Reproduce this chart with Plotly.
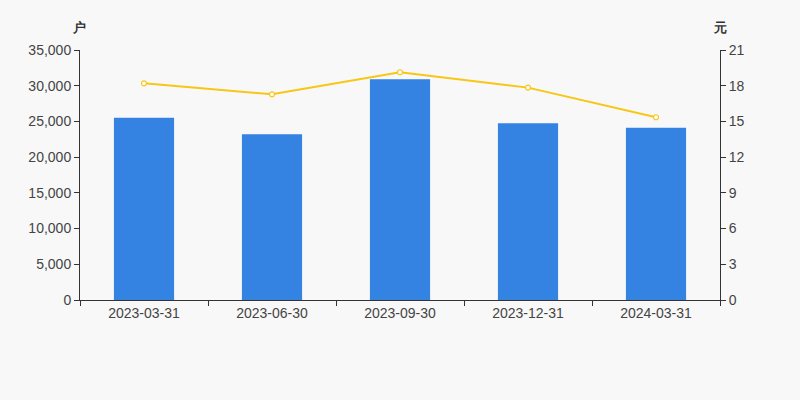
import plotly.graph_objects as go

dates = ["2023-03-31", "2023-06-30", "2023-09-30", "2023-12-31", "2024-03-31"]
holders = [25500, 23200, 30900, 24750, 24100]
avg_price = [18.2, 17.28, 19.13, 17.84, 15.35]

fig = go.Figure()

fig.add_trace(go.Bar(
    x=dates, y=holders, name="股东户数",
    marker=dict(color="#3482e2", line=dict(width=0)),
    width=0.47,
))

fig.add_trace(go.Scatter(
    x=dates, y=avg_price, name="股价", yaxis="y2",
    mode="lines+markers",
    line=dict(color="#f8c615", width=2),
    marker=dict(size=5, color="#ffffff", line=dict(color="#f8c615", width=1.2)),
))

axis_font = dict(family="Liberation Sans, Arial, sans-serif", size=14, color="#444")

fig.update_layout(
    width=800, height=400,
    margin=dict(l=80, r=80, t=50, b=100),
    paper_bgcolor="#f8f8f8", plot_bgcolor="#f8f8f8",
    showlegend=False,
    font=axis_font,
    xaxis=dict(
        type="category", showline=True, linecolor="#333", linewidth=1,
        ticks="outside", tickson="boundaries", ticklen=5, tickcolor="#333",
        showgrid=False, tickfont=axis_font,
    ),
    yaxis=dict(
        range=[0, 35000], dtick=5000, tickformat=",d",
        showline=True, linecolor="#333", linewidth=1,
        ticks="outside", ticklen=5, tickcolor="#333",
        showgrid=False, zeroline=False, tickfont=axis_font,
    ),
    yaxis2=dict(
        range=[0, 21], dtick=3, overlaying="y", side="right",
        showline=True, linecolor="#333", linewidth=1,
        ticks="outside", ticklen=5, tickcolor="#333",
        showgrid=False, zeroline=False, tickfont=axis_font,
    ),
    annotations=[
        dict(text="<b>户</b>", xref="paper", yref="paper", x=0, y=1, xshift=-1, yshift=23,
             showarrow=False, xanchor="center", yanchor="middle",
             font=dict(size=13, color="#333")),
        dict(text="<b>元</b>", xref="paper", yref="paper", x=1, y=1, yshift=23,
             showarrow=False, xanchor="center", yanchor="middle",
             font=dict(size=13, color="#333")),
    ],
)

fig.write_html("out.html", config={"displayModeBar": False},
               post_script="document.body.style.margin='0';")
